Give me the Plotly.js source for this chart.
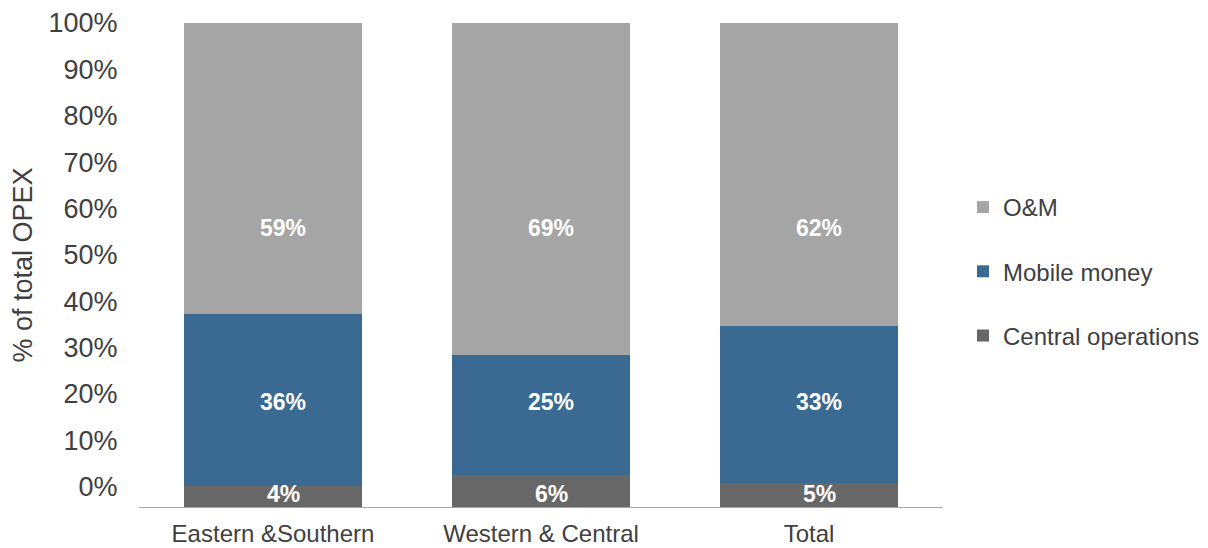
<!DOCTYPE html>
<html>
<head>
<meta charset="utf-8">
<script src="https://cdn.plot.ly/plotly-3.0.1.min.js"></script>
<style>html,body{margin:0;padding:0;background:#fff;}#chart{width:1208px;height:548px;}</style>
</head>
<body>
<div id="chart"></div>
<script>
const categories = ['Eastern &Southern', 'Western & Central', 'Total'];
const seriesNames = ['Central operations', 'Mobile money', 'O&M'];
const centralOps = [4.3, 6.6, 5.0];
const mobileMoney = [35.6, 24.8, 32.5];
const oAndM = [60.1, 68.6, 62.5];
const centralLabels = ['4%', '6%', '5%'];
const mobileLabels = ['36%', '25%', '33%'];
const omLabels = ['59%', '69%', '62%'];
const yTicks = [0, 10, 20, 30, 40, 50, 60, 70, 80, 90, 100];
const yTickLabels = ['0%', '10%', '20%', '30%', '40%', '50%', '60%', '70%', '80%', '90%', '100%'];

const colors = ['#676767', '#3A6A92', '#A5A5A5'];
const FONT = 'Liberation Sans, Arial, sans-serif';

const seriesValues = [centralOps, mobileMoney, oAndM];
const traces = seriesValues.map((vals, i) => ({
  type: 'bar',
  name: seriesNames[i],
  x: categories,
  y: vals,
  marker: {color: colors[i], line: {width: 0}},
  legendgroup: 'g' + i,
  legendrank: 3 - i,
  hoverinfo: 'skip'
}));
// empty helper trace so the left tick-label axis is drawn
traces.push({type: 'scatter', x: [], y: [], yaxis: 'y2', showlegend: false, hoverinfo: 'skip'});

// label placement (style) in axis units
const labelRows = [
  {labels: centralLabels, y: 2.6},
  {labels: mobileLabels, y: 21.6},
  {labels: omLabels, y: 57.7}
];
const annotations = [];
labelRows.forEach(row => {
  row.labels.forEach((t, j) => {
    annotations.push({
      x: categories[j], y: row.y, xref: 'x', yref: 'y',
      text: '<b>' + t + '</b>', showarrow: false, xshift: 10,
      font: {family: FONT, size: 23, color: '#ffffff'}
    });
  });
});

const layout = {
  width: 1208, height: 548,
  margin: {l: 139, r: 265, t: 23, b: 41, autoexpand: false},
  paper_bgcolor: '#ffffff', plot_bgcolor: '#ffffff',
  barmode: 'stack',
  bargap: 0.336,
  font: {family: FONT, color: '#404040'},
  xaxis: {
    showline: true, linecolor: '#A6A6A6', linewidth: 1.3,
    ticks: 'outside', ticklen: 5, tickcolor: 'rgba(0,0,0,0)',
    tickfont: {family: FONT, size: 24, color: '#404040'},
    showgrid: false, zeroline: false
  },
  yaxis: {
    range: [0, 100], showticklabels: false, showgrid: false,
    zeroline: false, showline: false, ticks: ''
  },
  yaxis2: {
    type: 'linear',
    overlaying: 'y', side: 'left', anchor: 'x',
    range: [-4.42, 100], tickmode: 'array', tickvals: yTicks, ticktext: yTickLabels,
    ticks: 'outside', ticklen: 15, tickcolor: 'rgba(0,0,0,0)',
    tickfont: {family: FONT, size: 27, color: '#404040'},
    showgrid: false, zeroline: false, showline: false,
    title: {text: '% of total OPEX', font: {family: FONT, size: 27, color: '#404040'}, standoff: 8}
  },
  legend: {
    xref: 'container', yref: 'container',
    x: 0.7972, y: 0.6624, xanchor: 'left', yanchor: 'top',
    traceorder: 'grouped', tracegroupgap: 30,
    font: {family: FONT, size: 24, color: '#404040'},
    bgcolor: 'rgba(0,0,0,0)'
  },
  annotations: annotations,
  showlegend: true
};

Plotly.newPlot('chart', traces, layout, {displayModeBar: false, staticPlot: true});
</script>
</body>
</html>
